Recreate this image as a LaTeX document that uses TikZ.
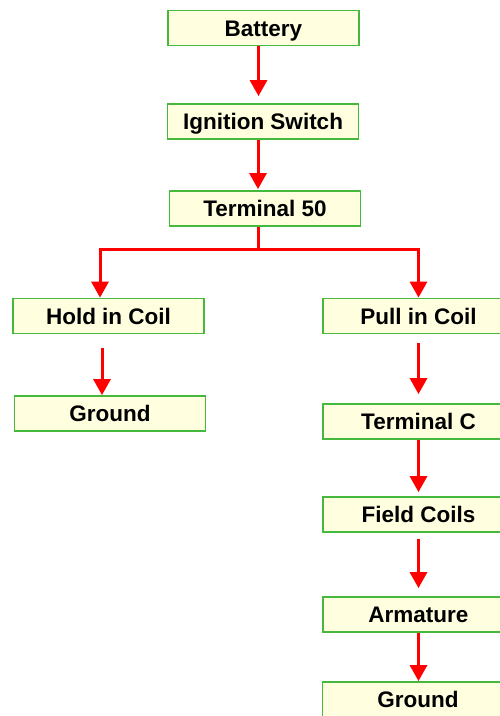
\documentclass[tikz,border=0pt]{standalone}
\usepackage{fontspec}
\setmainfont{Liberation Sans}
\usetikzlibrary{arrows.meta}
\definecolor{boxgreen}{RGB}{70,185,60}
\definecolor{boxfill}{RGB}{255,255,224}
\definecolor{arrred}{RGB}{255,0,0}
\tikzset{
  blk/.style={draw=boxgreen, line width=1.8pt, fill=boxfill, minimum width=191pt, minimum height=35pt, inner sep=0pt, text height=16.5pt, text depth=0pt, font=\fontsize{22.5}{27}\selectfont\bfseries},
  arr/.style={draw=arrred, line width=3pt, -{Triangle[width=17pt,length=16pt]}},
  redline/.style={draw=arrred, line width=3pt}
}
\begin{document}
\begin{tikzpicture}[x=1pt,y=-1pt]
\useasboundingbox (0,0) rectangle (500,716);
\fill[white] (0,0) rectangle (500,716);
\clip (0,0) rectangle (500,716);
\node[blk] (bat) at (263.5,28) {Battery};
\node[blk] (ign) at (263,121.5) {Ignition Switch};
\node[blk] (t50) at (265,208.5) {Terminal 50};
\node[blk] (hold) at (108.5,316) {Hold in Coil};
\node[blk] (gl) at (110,413.5) {Ground};
\node[blk] (pull) at (418.5,316) {Pull in Coil};
\node[blk] (tc) at (418.5,421.5) {Terminal C};
\node[blk] (fc) at (418.5,514.5) {Field Coils};
\node[blk] (arm) at (418.5,614.5) {Armature};
\node[blk] (gr) at (418,699.5) {Ground};

\draw[arr, shorten >=7pt] ([xshift=-5pt]bat.south) -- ([xshift=-5pt]bat.south |- ign.north);
\draw[arr, shorten >=1pt] ([xshift=-5pt]ign.south) -- ([xshift=-5pt]ign.south |- t50.north);
\draw[redline] ([xshift=-7pt]t50.south) -- ++(0,23) coordinate (j);
\draw[arr] (j) -| ([xshift=-8.5pt]hold.north);
\draw[arr] (j) -| (pull.north);
\draw[arr, shorten <=14pt] ([xshift=-6.5pt]hold.south) -- ([xshift=-6.5pt]hold.south |- gl.north);
\draw[arr, shorten <=9pt, shorten >=9pt] (pull.south) -- (tc.north);
\draw[arr, shorten >=4pt] (tc.south) -- (fc.north);
\draw[arr, shorten <=6pt, shorten >=8pt] (fc.south) -- (arm.north);
\draw[arr] (arm.south) -- (arm.south |- gr.north);
\end{tikzpicture}
\end{document}
